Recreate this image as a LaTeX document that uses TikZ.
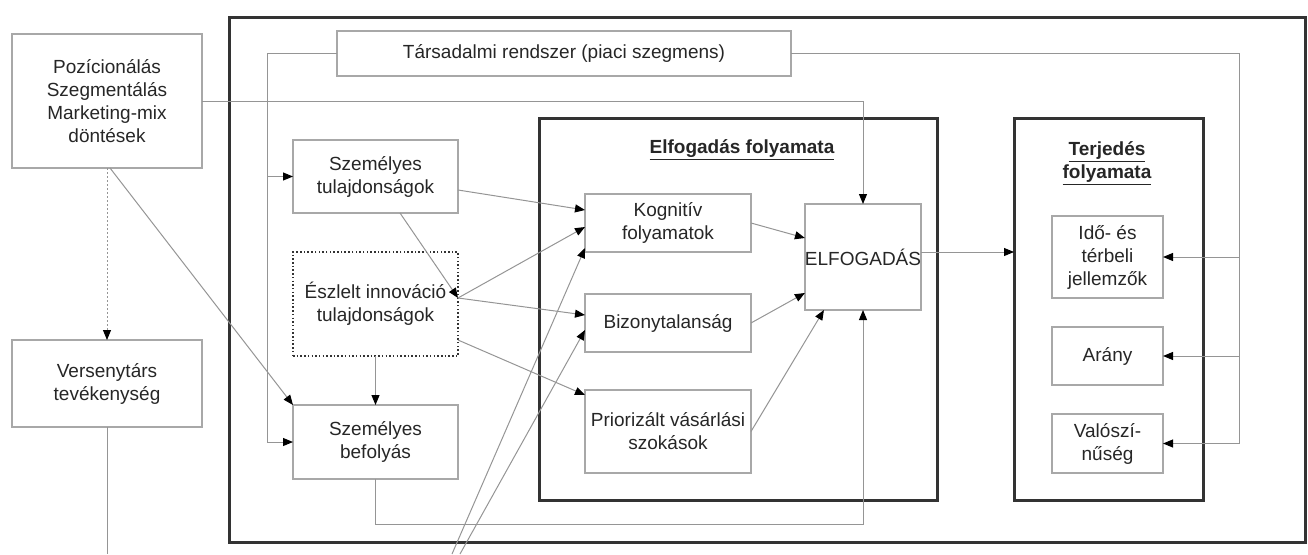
\documentclass[tikz,border=0pt]{standalone}
\usepackage{fontspec}
\setmainfont{Liberation Sans}
\usetikzlibrary{arrows.meta,calc}
\definecolor{boxgray}{HTML}{A8A8A8}
\definecolor{linegray}{HTML}{959595}
\definecolor{framec}{HTML}{333333}
\definecolor{txt}{HTML}{262626}
\tikzset{
  frame/.style={draw=framec, line width=3pt, inner sep=0pt, outer sep=0pt},
  gbox/.style={draw=boxgray, line width=1.2pt, align=center, inner sep=0pt, outer sep=0pt, text=txt},
  dotbox/.style={draw=framec, line width=1.5pt, dash pattern=on 1.5pt off 2.2pt, align=center, inner sep=0pt, outer sep=0pt, text=txt},
  conn/.style={draw=linegray, line width=1pt},
  arr/.style={conn, -{Triangle[length=10pt,width=8pt,color=black]}},
  title/.style={font=\fontsize{19}{23}\selectfont\bfseries, align=center, text=txt}
}
\begin{document}
\begin{tikzpicture}[x=1pt,y=-1pt,font=\fontsize{19}{23}\selectfont]
\useasboundingbox (0,0) rectangle (1308,554);
% frames
\node[frame, minimum width=1076pt, minimum height=525pt] (outer) at (767,279.5) {};
\node[frame, minimum width=398pt, minimum height=382pt] (elfbox) at (738,309) {};
\node[frame, minimum width=189pt, minimum height=382pt] (terbox) at (1108.5,309) {};
\node[title] (elftitle) at (742,150) {\underline{Elfogadás folyamata}};
\node[title] (tertitle) at (1107,163) {\underline{Terjedés}\\\underline{folyamata}};
% boxes
\node[gbox, minimum width=190pt, minimum height=134pt] (poz) at (107,101) {Pozícionálás\\Szegmentálás\\Marketing-mix\\döntések};
\node[gbox, minimum width=190pt, minimum height=87pt] (vers) at (107,383.5) {Versenytárs\\tevékenység};
\node[gbox, minimum width=454pt, minimum height=45pt] (tars) at (564,53.5) {Társadalmi rendszer (piaci szegmens)};
\node[gbox, minimum width=165pt, minimum height=73pt] (sztul) at (375.5,176.5) {Személyes\\tulajdonságok};
\node[dotbox, minimum width=165pt, minimum height=104pt] (eszl) at (375.5,304) {Észlelt innováció\\tulajdonságok};
\node[gbox, minimum width=165pt, minimum height=74pt] (szbef) at (375.5,442) {Személyes\\befolyás};
\node[gbox, minimum width=166pt, minimum height=58pt] (kogn) at (668,223) {Kognitív\\folyamatok};
\node[gbox, minimum width=166pt, minimum height=58pt] (biz) at (668,323) {Bizonytalanság};
\node[gbox, minimum width=166pt, minimum height=83pt] (prior) at (668,431.5) {Priorizált vásárlási\\szokások};
\node[gbox, minimum width=114pt, minimum height=106pt] (elf) at (863,257) {ELFOGADÁS};
\node[gbox, minimum width=111pt, minimum height=82pt] (ido) at (1107.5,257) {Idő- és\\térbeli\\jellemzők};
\node[gbox, minimum width=111pt, minimum height=58pt] (arany) at (1107.5,356) {Arány};
\node[gbox, minimum width=111pt, minimum height=59pt] (valo) at (1107.5,443.5) {Valószí-\\nűség};
% free ends at the bottom edge
\coordinate (versend) at (107,554);
\coordinate (b1) at (452,554);
\coordinate (b2) at (460,554);
% connectors
\draw[conn, dash pattern=on 2pt off 2pt, -{Triangle[length=10pt,width=8pt,color=black]}] (poz.south) -- (vers.north);
\draw[conn] (vers.south) -- (versend);
\draw[arr] ($(poz.south)+(3,0)$) -- (szbef.north west);
\draw[arr] (poz.east) -| (elf.north);
\draw[arr] (tars.west) -| ([xshift=-26pt]szbef.west) -- (szbef.west);
\draw[arr] ([xshift=-26pt]szbef.west |- sztul.west) -- (sztul.west);
\draw[arr] (tars.east) -| ([xshift=76pt]valo.east) -- (valo.east);
\draw[arr] ([xshift=76pt]valo.east |- ido.east) -- (ido.east);
\draw[arr] ([xshift=76pt]valo.east |- arany.east) -- (arany.east);
\draw[arr] ($(sztul.east)+(0,13.5)$) -- ($(kogn.west)+(0,-13)$);
\draw[arr] ($(sztul.south)+(24.5,0)$) -- ($(eszl.east)+(0,-6)$);
\draw[arr] ($(eszl.east)+(0,-6)$) -- ($(kogn.west)+(0,4)$);
\draw[arr] ($(eszl.east)+(0,-6)$) -- ($(biz.west)+(0,-8)$);
\draw[arr] ($(eszl.east)+(0,36)$) -- ($(prior.west)+(0,-36.5)$);
\draw[arr] (eszl.south) -- (szbef.north);
\draw[arr] (b1) -- ($(kogn.west)+(0,25)$);
\draw[arr] (b2) -- ($(biz.west)+(0,7)$);
\draw[arr] (kogn.east) -- ($(elf.west)+(0,-19)$);
\draw[arr] (biz.east) -- ($(elf.west)+(0,36)$);
\draw[arr] (prior.east) -- ($(elf.south west)+(19,0)$);
\draw[arr] ($(szbef.south)$) -- ++(0,45) -| (elf.south);
\draw[arr] ($(elf.east)+(0,-5)$) -- ($(terbox.west)+(0,-57)$);
\end{tikzpicture}
\end{document}
